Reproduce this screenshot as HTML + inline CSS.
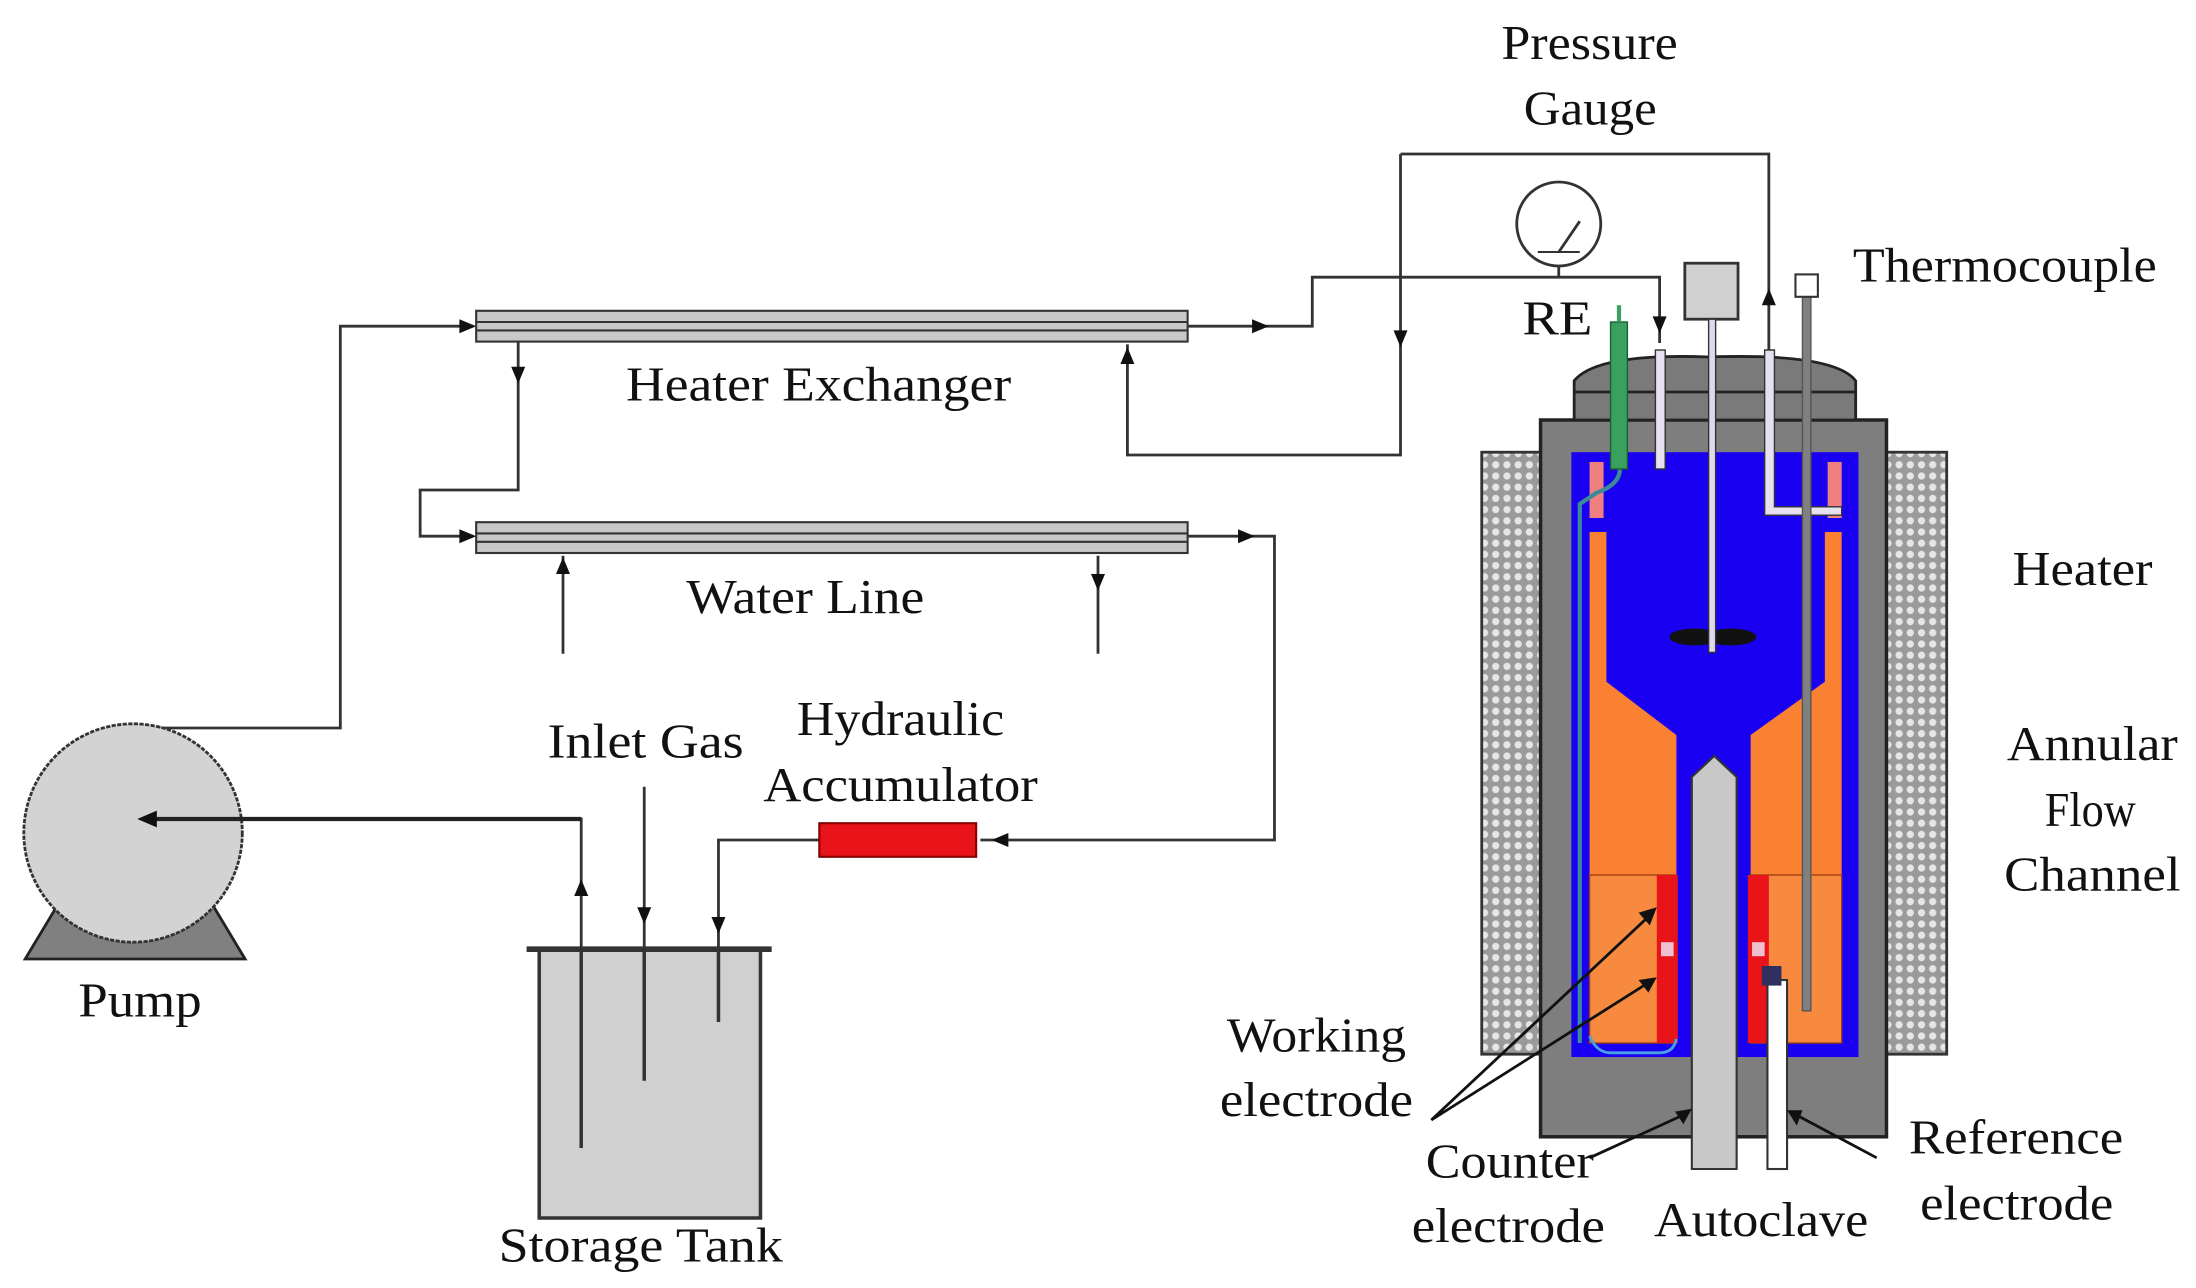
<!DOCTYPE html>
<html><head><meta charset="utf-8"><style>
html,body{margin:0;padding:0;background:#fff}
svg{display:block}
text{font-family:"Liberation Serif",serif;font-size:35px;fill:#111}
</style></head><body>
<svg width="2196" height="1288" viewBox="0 0 1568 920" preserveAspectRatio="none">
<defs>
<pattern id="hatch" width="8" height="8" patternUnits="userSpaceOnUse">
<rect width="8" height="8" fill="#9a9a9a"/><circle cx="4" cy="4" r="2.6" fill="#e6e6e6"/>
</pattern>
</defs>
<g stroke="#333" stroke-width="2" fill="none">
<polyline points="1000,110 1263,110 1263,250"/>
<polyline points="1000,110 1000,325 805,325 805,246"/>
<polyline points="848,233 937,233 937,198 1185,198 1185,245"/>
<line x1="1113" y1="190" x2="1113" y2="198"/>
<polyline points="100,520 243,520 243,233 338,233"/>
<polyline points="370,244 370,350 300,350 300,383 338,383"/>
<polyline points="848,383 910,383 910,600 700,600"/>
<polyline points="585,600 513,600 513,730"/>
<line x1="402" y1="467" x2="402" y2="397"/>
<line x1="784" y1="397" x2="784" y2="467"/>
<polyline points="415,820 415,585 100,585"/>
<line x1="460" y1="562" x2="460" y2="772"/>
</g>
<g fill="#111">
<path d="M328,228 L340,233 L328,238z"/>
<path d="M328,378 L340,383 L328,388z"/>
<path d="M894,228 L906,233 L894,238z"/>
<path d="M884,378 L896,383 L884,388z"/>
<path d="M365,262 L370,274 L375,262z"/>
<path d="M800,260 L805,248 L810,260z"/>
<path d="M995,236 L1000,248 L1005,236z"/>
<path d="M1180,226 L1185,238 L1190,226z"/>
<path d="M1258,218 L1263,206 L1268,218z"/>
<path d="M397,410 L402,398 L407,410z"/>
<path d="M779,410 L784,422 L789,410z"/>
<path d="M720,595 L708,600 L720,605z"/>
<path d="M410,640 L415,628 L420,640z"/>
<path d="M455,648 L460,660 L465,648z"/>
<path d="M508,655 L513,667 L518,655z"/>
</g>
<g stroke="#333" stroke-width="1.5">
<rect x="340" y="222" width="508" height="22" fill="#c8c8c8"/>
<line x1="340" y1="230" x2="848" y2="230"/><line x1="340" y1="236" x2="848" y2="236"/>
<rect x="340" y="373" width="508" height="22" fill="#c8c8c8"/>
<line x1="340" y1="381" x2="848" y2="381"/><line x1="340" y1="387" x2="848" y2="387"/>
</g>
<rect x="585" y="588" width="112" height="24" fill="#e8141a" stroke="#800" stroke-width="1.5"/>
<path d="M45,640 L148,640 L175,685 L18,685z" fill="#808080" stroke="#222" stroke-width="2"/>
<circle cx="95" cy="595" r="78" fill="#d3d3d3" stroke="#333" stroke-width="2" stroke-dasharray="3 1"/>
<line x1="415" y1="585" x2="108" y2="585" stroke="#222" stroke-width="3"/>
<path d="M112,579 L98,585 L112,591z" fill="#111"/>
<rect x="385" y="678" width="158" height="192" fill="#d0d0d0" stroke="#333" stroke-width="2.5"/>
<line x1="376" y1="678" x2="551" y2="678" stroke="#333" stroke-width="4"/>
<g stroke="#333" stroke-width="2.5"><line x1="415" y1="678" x2="415" y2="820"/><line x1="460" y1="678" x2="460" y2="772"/><line x1="513" y1="678" x2="513" y2="730"/></g>
<circle cx="1113" cy="160" r="30" fill="#fff" stroke="#333" stroke-width="2"/>
<line x1="1113" y1="180" x2="1128" y2="158" stroke="#333" stroke-width="2"/>
<line x1="1098" y1="180" x2="1128" y2="180" stroke="#333" stroke-width="1.5"/>
<rect x="1058" y="323" width="44" height="430" fill="url(#hatch)" stroke="#333" stroke-width="2"/>
<rect x="1346" y="323" width="44" height="430" fill="url(#hatch)" stroke="#333" stroke-width="2"/>
<rect x="1100" y="300" width="247" height="512" fill="#7e7e7e" stroke="#222" stroke-width="2.5"/>
<path d="M1124,300 L1124,272 Q1140,252 1220,255 Q1310,252 1325,272 L1325,300z" fill="#7a7a7a" stroke="#222" stroke-width="2"/>
<line x1="1124" y1="280" x2="1325" y2="280" stroke="#222" stroke-width="2"/>
<rect x="1122" y="323" width="205" height="432" fill="#1a00f0"/>
<rect x="1135" y="330" width="10" height="40" fill="#f08080"/>
<rect x="1305" y="330" width="10" height="40" fill="#f08080"/>
<path d="M1135,380 L1147,380 L1147,487 L1197,525 L1197,625 L1135,625z" fill="#fa8032"/>
<path d="M1315,380 L1303,380 L1303,487 L1250,525 L1250,625 L1315,625z" fill="#fa8032"/>
<rect x="1135" y="625" width="62" height="120" fill="#f88a40" stroke="#a04010" stroke-width="1"/>
<rect x="1250" y="625" width="65" height="120" fill="#f88a40" stroke="#a04010" stroke-width="1"/>
<rect x="1183" y="625" width="15" height="120" fill="#e8141a"/>
<rect x="1248" y="625" width="15" height="120" fill="#e8141a"/>
<rect x="1186" y="673" width="9" height="10" fill="#f0c0d0"/>
<rect x="1251" y="673" width="9" height="10" fill="#f0c0d0"/>
<ellipse cx="1210" cy="455" rx="18" ry="6" fill="#111"/><ellipse cx="1236" cy="455" rx="18" ry="6" fill="#111"/>
<path d="M1208,555 L1224,540 L1240,555 L1240,835 L1208,835z" fill="#c8c8c8" stroke="#333" stroke-width="1.5"/>
<rect x="1262" y="700" width="14" height="135" fill="#fff" stroke="#333" stroke-width="1.5"/>
<rect x="1258" y="690" width="14" height="14" fill="#303060"/>
<path d="M1135,740 Q1140,752 1150,752 L1185,752 Q1195,752 1197,742" fill="none" stroke="#4aa0e0" stroke-width="2"/>
<path d="M1156,330 Q1160,345 1140,352 L1128,360 L1128,745" fill="none" stroke="#3a8a9a" stroke-width="3"/>
<rect x="1203" y="188" width="38" height="40" fill="#d0d0d0" stroke="#333" stroke-width="2"/>
<rect x="1220" y="228" width="5" height="238" fill="#e0d8f0" stroke="#333" stroke-width="1"/>
<rect x="1182" y="250" width="7" height="85" fill="#e6e0f0" stroke="#333" stroke-width="1"/>
<path d="M1260,250 L1267,250 L1267,362 L1315,362 L1315,368 L1260,368z" fill="#e6e0f0" stroke="#333" stroke-width="1"/>
<rect x="1287" y="212" width="6" height="510" fill="#808080" stroke="#555" stroke-width="1"/>
<rect x="1282" y="196" width="16" height="16" fill="#fff" stroke="#333" stroke-width="1.5"/>
<rect x="1150" y="230" width="12" height="105" fill="#3aa060" stroke="#1a6030" stroke-width="1"/>
<line x1="1156" y1="218" x2="1156" y2="230" stroke="#3aa060" stroke-width="3"/>
<g stroke="#111" stroke-width="2">
<line x1="1022" y1="800" x2="1180" y2="652"/><line x1="1022" y1="800" x2="1180" y2="700"/>
<line x1="1135" y1="827" x2="1205" y2="795"/><line x1="1340" y1="827" x2="1280" y2="795"/>
</g>
<g fill="#111">
<path d="M1170,652 L1183,648 L1178,661z"/><path d="M1170,700 L1183,698 L1177,709z"/>
<path d="M1196,794 L1208,792 L1202,803z"/><path d="M1287,793 L1276,793 L1283,804z"/>
</g>
<g lengthAdjust="spacingAndGlyphs">
<text x="1072" y="42" textLength="126" lengthAdjust="spacingAndGlyphs">Pressure</text>
<text x="1088" y="89" textLength="95" lengthAdjust="spacingAndGlyphs">Gauge</text>
<text x="447" y="286" textLength="275" lengthAdjust="spacingAndGlyphs">Heater  Exchanger</text>
<text x="490" y="438" textLength="170" lengthAdjust="spacingAndGlyphs">Water Line</text>
<text x="391" y="541" textLength="140" lengthAdjust="spacingAndGlyphs">Inlet Gas</text>
<text x="569" y="525" textLength="148" lengthAdjust="spacingAndGlyphs">Hydraulic</text>
<text x="545" y="572" textLength="196" lengthAdjust="spacingAndGlyphs">Accumulator</text>
<text x="56" y="726" textLength="88" lengthAdjust="spacingAndGlyphs">Pump</text>
<text x="356" y="901" textLength="203" lengthAdjust="spacingAndGlyphs">Storage  Tank</text>
<text x="1087" y="239" textLength="50" lengthAdjust="spacingAndGlyphs">RE</text>
<text x="1323" y="201" textLength="217" lengthAdjust="spacingAndGlyphs">Thermocouple</text>
<text x="1437" y="418" textLength="100" lengthAdjust="spacingAndGlyphs">Heater</text>
<text x="1433" y="543" textLength="122" lengthAdjust="spacingAndGlyphs">Annular</text>
<text x="1460" y="590" textLength="65" lengthAdjust="spacingAndGlyphs">Flow</text>
<text x="1431" y="636" textLength="126" lengthAdjust="spacingAndGlyphs">Channel</text>
<text x="876" y="751" textLength="128" lengthAdjust="spacingAndGlyphs">Working</text>
<text x="871" y="797" textLength="138" lengthAdjust="spacingAndGlyphs">electrode</text>
<text x="1018" y="841" textLength="120" lengthAdjust="spacingAndGlyphs">Counter</text>
<text x="1008" y="887" textLength="138" lengthAdjust="spacingAndGlyphs">electrode</text>
<text x="1181" y="883" textLength="153" lengthAdjust="spacingAndGlyphs">Autoclave</text>
<text x="1363" y="824" textLength="153" lengthAdjust="spacingAndGlyphs">Reference</text>
<text x="1371" y="871" textLength="138" lengthAdjust="spacingAndGlyphs">electrode</text>
</g>
</svg>
</body></html>
